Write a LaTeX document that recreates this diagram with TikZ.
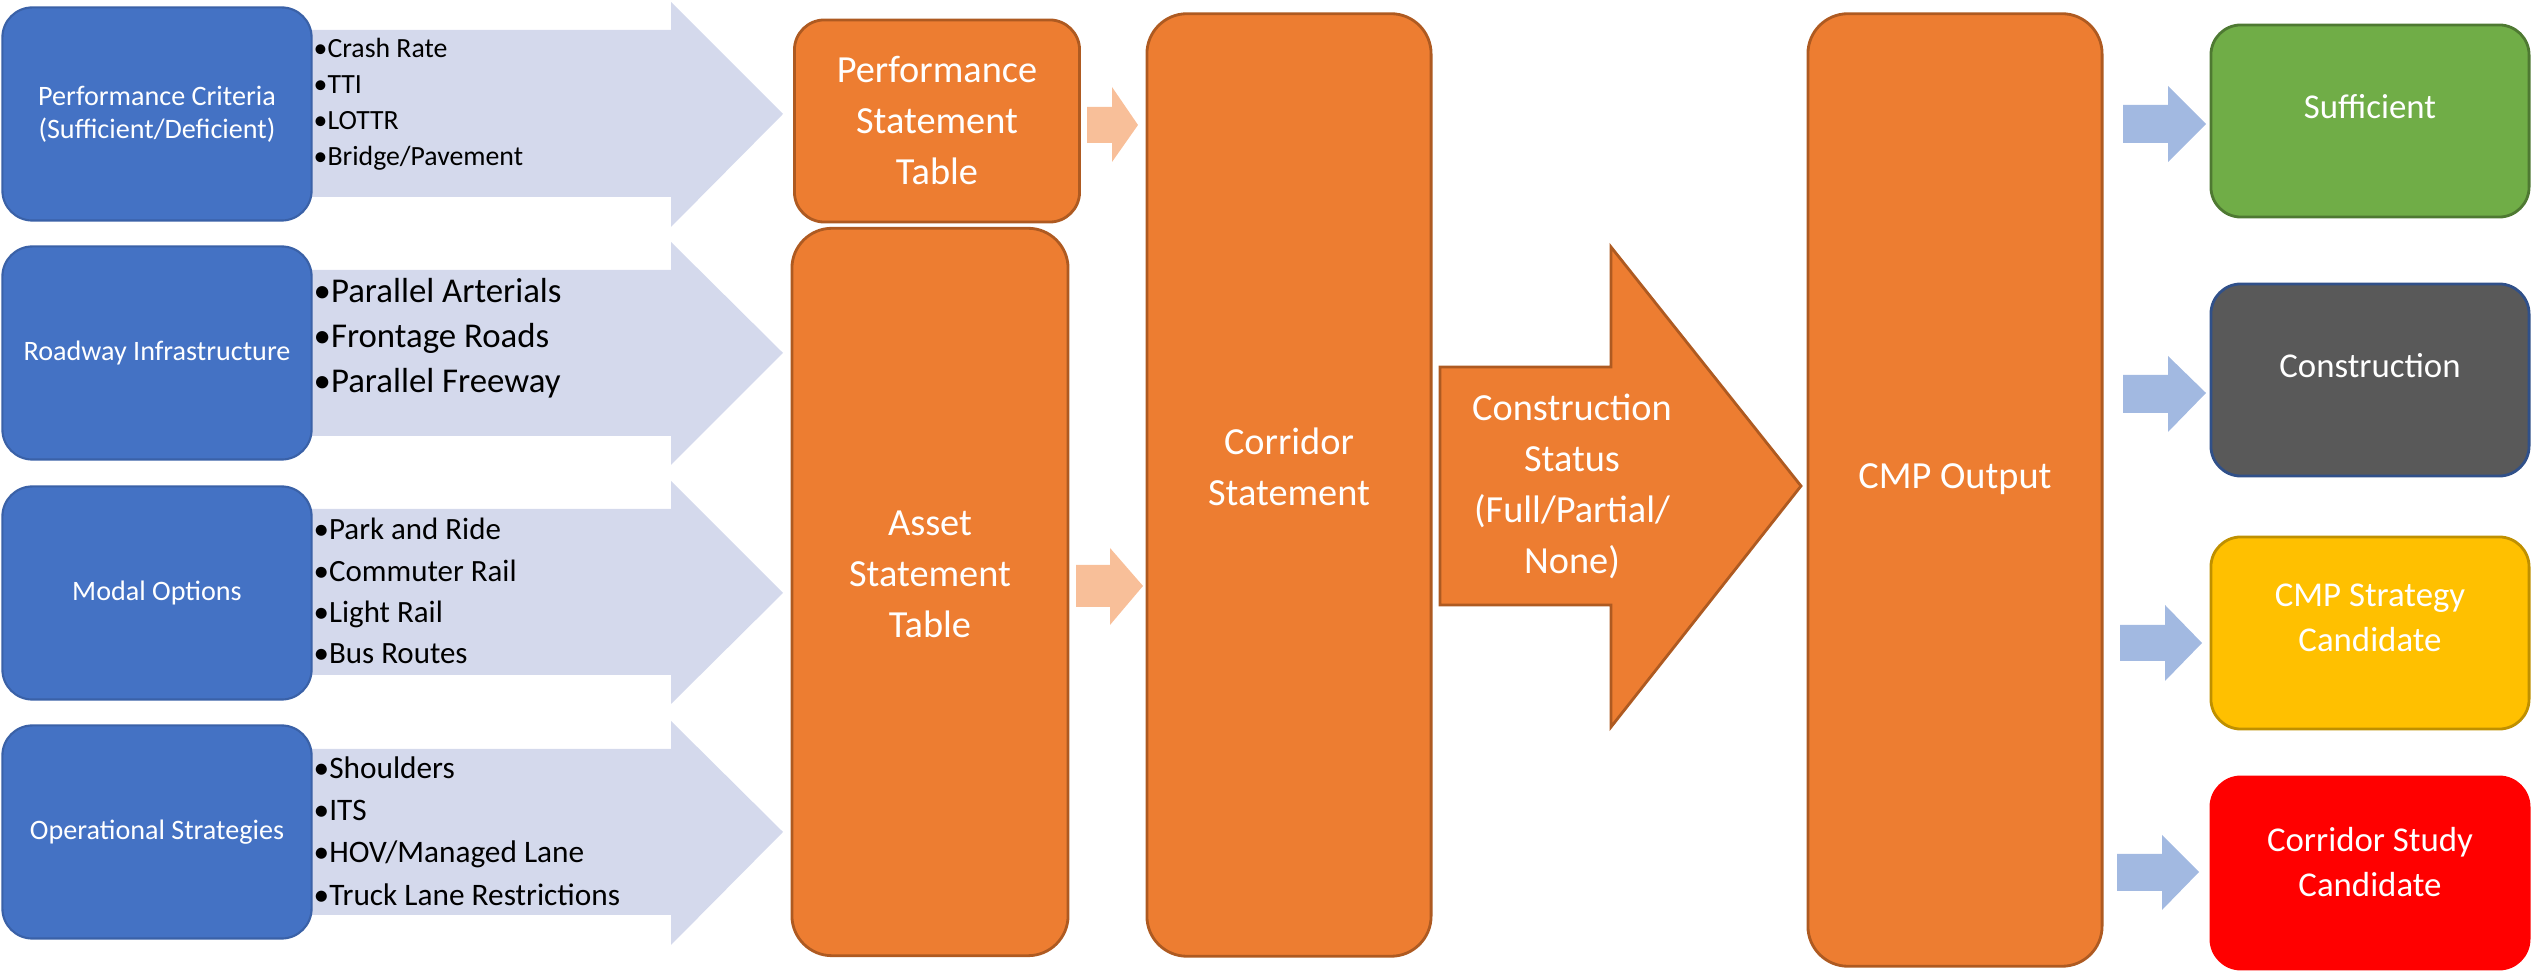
\documentclass[tikz,border=0pt]{standalone}
\usepackage{fontspec}
\setmainfont{Carlito}
\usepackage{tikz}
\usetikzlibrary{calc}

\definecolor{critblue}{HTML}{4472C4}
\definecolor{listlav}{HTML}{D4D9EC}
\definecolor{stmtorange}{HTML}{ED7D31}
\definecolor{stmtedge}{HTML}{AE5A21}
\definecolor{paleorange}{HTML}{F8BF99}
\definecolor{paleblue}{HTML}{A2B9E1}
\definecolor{suffgreen}{HTML}{70AD47}
\definecolor{constgray}{HTML}{595959}
\definecolor{stratyellow}{HTML}{FFC000}
\definecolor{studyred}{HTML}{FF0000}

\tikzset{
  critbox/.style={draw=critblue!85!black, fill=critblue, line width=0.6pt, rounded corners=0.3cm,
    minimum width=3.09cm, minimum height=2.13cm, text=white, align=center,
    font=\fontsize{8}{9.4}\selectfont},
  itemlist/.style={anchor=west, align=left, inner sep=0pt, text=black},
  stmtbox/.style={draw=stmtedge, fill=stmtorange, line width=0.8pt, rounded corners=0.4cm},
  stmttext/.style={text=white, align=center, font=\fontsize{10.9}{14.5}\selectfont},
  outbox/.style={line width=0.8pt, rounded corners=0.3cm, minimum width=3.18cm, minimum height=1.92cm},
  outtext/.style={text=white, align=center, font=\fontsize{9.9}{12.8}\selectfont}
}

\begin{document}
\begin{tikzpicture}[x=0.01cm, y=-0.01cm]
  \useasboundingbox (0,0) rectangle (2535,974);

  % lavender list arrows behind the criteria boxes
  \fill[listlav] (300,30) -- (671,30) -- (671,2) -- (783,114) -- (671,227) -- (671,197) -- (300,197) -- cycle;
  \fill[listlav] (300,270) -- (671,270) -- (671,242) -- (783,353) -- (671,465) -- (671,436) -- (300,436) -- cycle;
  \fill[listlav] (300,509) -- (671,509) -- (671,481) -- (783,593) -- (671,704) -- (671,675) -- (300,675) -- cycle;
  \fill[listlav] (300,749) -- (671,749) -- (671,721) -- (783,832) -- (671,945) -- (671,915) -- (300,915) -- cycle;

  % input criteria
  \node[critbox] (perfcrit) at (157,114) {Performance Criteria\\(Sufficient/Deficient)};
  \node[critbox] (roadinfra) at (157,353) {Roadway Infrastructure};
  \node[critbox] (modalopt) at (157,593) {Modal Options};
  \node[critbox] (opstrat) at (157,832) {Operational Strategies};

  % bullet lists on the arrows
  \node[itemlist, font=\fontsize{7.9}{10.2}\selectfont] (perflist) at (313,104)
    {•Crash Rate\\•TTI\\•LOTTR\\•Bridge/Pavement};
  \node[itemlist, font=\fontsize{9.9}{12.8}\selectfont] (roadlist) at (313,338)
    {•Parallel Arterials\\•Frontage Roads\\•Parallel Freeway};
  \node[itemlist, font=\fontsize{8.8}{11.7}\selectfont] (modallist) at (313,591)
    {•Park and Ride\\•Commuter Rail\\•Light Rail\\•Bus Routes};
  \node[itemlist, font=\fontsize{8.9}{12}\selectfont] (opslist) at (313,831)
    {•Shoulders\\•ITS\\•HOV/Managed Lane\\•Truck Lane Restrictions};

  % statement tables
  \node[stmtbox, rounded corners=0.3cm, minimum width=2.85cm, minimum height=2.02cm] (perftab) at (937,121) {};
  \node[stmttext] at (perftab) {Performance\\Statement\\Table};
  \node[stmtbox, minimum width=2.76cm, minimum height=7.27cm] (assettab) at (930,592) {};
  \node[stmttext] at (930,574) {Asset\\Statement\\Table};
  \node[stmtbox, minimum width=2.84cm, minimum height=9.42cm] (corridor) at (1289,485) {};
  \node[stmttext] at (1289,467) {Corridor\\Statement};

  % pale arrows into the corridor statement
  \fill[paleorange] (1087,107) -- (1112,107) -- (1112,87) -- (1138,125) -- (1112,162) -- (1112,143) -- (1087,143) -- cycle;
  \fill[paleorange] (1076,565) -- (1110,565) -- (1110,548) -- (1143,586) -- (1110,625) -- (1110,607) -- (1076,607) -- cycle;

  % construction status arrow
  \filldraw[fill=stmtorange, draw=stmtedge, line width=0.8pt]
    (1440,367) -- (1611,367) -- (1611,247) -- (1801,486) -- (1611,727) -- (1611,605) -- (1440,605) -- cycle;
  \node[stmttext] (status) at (1572,486) {Construction\\Status\\(Full/Partial/\\None)};

  % output
  \node[stmtbox, minimum width=2.94cm, minimum height=9.52cm] (cmpout) at (1955,490) {};
  \node[stmttext] at (1955,479) {CMP Output};

  % result boxes
  \node[outbox, fill=suffgreen, draw=suffgreen!70!black] (suff) at (2370,121) {};
  \node[outtext] at (2370,107) {Sufficient};
  \node[outbox, fill=constgray, draw=critblue!70!black] (constr) at (2370,380) {};
  \node[outtext] at (2370,366) {Construction};
  \node[outbox, fill=stratyellow, draw=stratyellow!75!black] (strat) at (2370,633) {};
  \node[outtext] at (2370,618) {CMP Strategy\\Candidate};
  \node[outbox, fill=studyred, draw=studyred] (study) at (2370,873) {};
  \node[outtext] at (2370,862) {Corridor Study\\Candidate};

  % pale blue arrows to the results
  \fill[paleblue] (2123,105) -- (2168,105) -- (2168,86) -- (2206,124) -- (2168,162) -- (2168,143) -- (2123,143) -- cycle;
  \fill[paleblue] (2123,375) -- (2168,375) -- (2168,356) -- (2206,393) -- (2168,432) -- (2168,413) -- (2123,413) -- cycle;
  \fill[paleblue] (2120,625) -- (2165,625) -- (2165,605) -- (2202,643) -- (2165,681) -- (2165,661) -- (2120,661) -- cycle;
  \fill[paleblue] (2117,854) -- (2162,854) -- (2162,835) -- (2199,872) -- (2162,910) -- (2162,891) -- (2117,891) -- cycle;

\end{tikzpicture}
\end{document}
